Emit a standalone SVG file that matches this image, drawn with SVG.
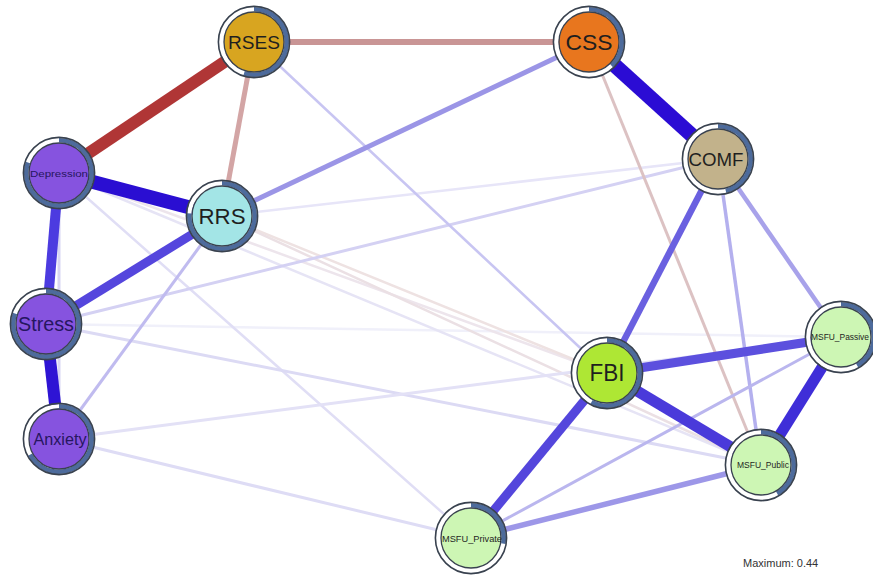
<svg xmlns="http://www.w3.org/2000/svg" width="873" height="578" viewBox="0 0 873 578">
<style>
.e{fill:none;stroke-linecap:butt}
.ring{fill:none;stroke:#ffffff;stroke-width:4.6}
.pie{fill:none;stroke:#4d6b9c;stroke-width:4.6}
.outer{fill:none;stroke:#39424f;stroke-width:1.6}
.inner{stroke:#39424f;stroke-width:1.3}
.lbl{font-family:"Liberation Sans",Arial,sans-serif;fill:#1f1f1f;text-anchor:middle}
.lblp{fill:#261660}
</style>
<rect width="873" height="578" fill="#ffffff"/>
<g id="connectors">
  <line class="e" x1="46" y1="324" x2="841" y2="337" stroke="#f0f0fa" stroke-width="2.5"/>
  <line class="e" x1="222" y1="216" x2="718" y2="159" stroke="#e7e5f8" stroke-width="2.5"/>
  <line class="e" x1="59" y1="173" x2="607" y2="373" stroke="#ede5ec" stroke-width="2.5"/>
  <line class="e" x1="59" y1="173" x2="761" y2="465" stroke="#e6e4f5" stroke-width="2.5"/>
  <line class="e" x1="222" y1="216" x2="607" y2="373" stroke="#eee2e2" stroke-width="2.5"/>
  <line class="e" x1="222" y1="216" x2="761" y2="465" stroke="#ebe0e4" stroke-width="2.5"/>
  <line class="e" x1="59" y1="173" x2="471" y2="538" stroke="#e0def5" stroke-width="2.5"/>
  <line class="e" x1="46" y1="324" x2="761" y2="465" stroke="#dcdaf4" stroke-width="3"/>
  <line class="e" x1="59" y1="439" x2="841" y2="337" stroke="#e3e1f6" stroke-width="3"/>
  <line class="e" x1="59" y1="439" x2="471" y2="538" stroke="#dedcf5" stroke-width="3"/>
  <line class="e" x1="46" y1="324" x2="718" y2="159" stroke="#d4d1f3" stroke-width="3"/>
  <line class="e" x1="59" y1="173" x2="59" y2="439" stroke="#d8d5f3" stroke-width="3"/>
  <line class="e" x1="222" y1="216" x2="59" y2="439" stroke="#c0bbef" stroke-width="3"/>
  <line class="e" x1="254" y1="42" x2="607" y2="373" stroke="#c8c5f2" stroke-width="2.6"/>
  <line class="e" x1="589" y1="42" x2="761" y2="465" stroke="#dcc2c3" stroke-width="3"/>
  <line class="e" x1="718" y1="159" x2="761" y2="465" stroke="#b4b0ee" stroke-width="3.5"/>
  <line class="e" x1="471" y1="538" x2="841" y2="337" stroke="#bab6ee" stroke-width="3"/>
  <line class="e" x1="718" y1="159" x2="841" y2="337" stroke="#a8a2ea" stroke-width="4.5"/>
  <line class="e" x1="471" y1="538" x2="761" y2="465" stroke="#9d97e8" stroke-width="5.5"/>
  <line class="e" x1="222" y1="216" x2="589" y2="42" stroke="#9b95e6" stroke-width="5"/>
  <line class="e" x1="254" y1="42" x2="222" y2="216" stroke="#d3a5a5" stroke-width="5"/>
  <line class="e" x1="254" y1="42" x2="589" y2="42" stroke="#c99595" stroke-width="6"/>
  <line class="e" x1="718" y1="159" x2="607" y2="373" stroke="#6a60e0" stroke-width="6.5"/>
  <line class="e" x1="607" y1="373" x2="471" y2="538" stroke="#5446dc" stroke-width="9"/>
  <line class="e" x1="607" y1="373" x2="841" y2="337" stroke="#5c50de" stroke-width="9"/>
  <line class="e" x1="607" y1="373" x2="761" y2="465" stroke="#4a3ada" stroke-width="11"/>
  <line class="e" x1="841" y1="337" x2="761" y2="465" stroke="#3f2ed8" stroke-width="11"/>
  <line class="e" x1="46" y1="324" x2="222" y2="216" stroke="#5546dd" stroke-width="9"/>
  <line class="e" x1="59" y1="173" x2="46" y2="324" stroke="#4c3be0" stroke-width="10"/>
  <line class="e" x1="46" y1="324" x2="59" y2="439" stroke="#2e14d4" stroke-width="12"/>
  <line class="e" x1="59" y1="173" x2="222" y2="216" stroke="#2a0ed2" stroke-width="14"/>
  <line class="e" x1="589" y1="42" x2="718" y2="159" stroke="#2b0cd4" stroke-width="15"/>
  <line class="e" x1="254" y1="42" x2="59" y2="173" stroke="#b03636" stroke-width="12"/>
</g>
<g id="node-RSES">
  <circle class="ring" cx="254" cy="42" r="32.8"/>
  <circle class="pie" cx="254" cy="42" r="32.8" stroke-dasharray="113 300" transform="rotate(-90 254 42)"/>
  <circle class="outer" cx="254" cy="42" r="35.6"/>
  <circle class="inner" cx="254" cy="42" r="30" fill="#d8a520"/>
  <text class="lbl" x="254" y="49" font-size="19" textLength="52" lengthAdjust="spacingAndGlyphs" fill="#3a2c08">RSES</text>
</g>
<g id="node-CSS">
  <circle class="ring" cx="589" cy="42" r="32.8"/>
  <circle class="pie" cx="589" cy="42" r="32.8" stroke-dasharray="78 300" transform="rotate(-90 589 42)"/>
  <circle class="outer" cx="589" cy="42" r="35.6"/>
  <circle class="inner" cx="589" cy="42" r="30" fill="#e8761e"/>
  <text class="lbl" x="589" y="50" font-size="22" textLength="47" lengthAdjust="spacingAndGlyphs" fill="#2e1a08">CSS</text>
</g>
<g id="node-COMF">
  <circle class="ring" cx="718" cy="159" r="32.8"/>
  <circle class="pie" cx="718" cy="159" r="32.8" stroke-dasharray="95 300" transform="rotate(-90 718 159)"/>
  <circle class="outer" cx="718" cy="159" r="35.6"/>
  <circle class="inner" cx="718" cy="159" r="30" fill="#c2b28b"/>
  <text class="lbl" x="716" y="166" font-size="18.5" textLength="55" lengthAdjust="spacingAndGlyphs" fill="#2f2a1c">COMF</text>
</g>
<g id="node-Depression">
  <circle class="ring" cx="59" cy="173" r="32.8"/>
  <circle class="pie" cx="59" cy="173" r="32.8" stroke-dasharray="165 300" transform="rotate(-90 59 173)"/>
  <circle class="outer" cx="59" cy="173" r="35.6"/>
  <circle class="inner" cx="59" cy="173" r="30" fill="#8653df"/>
  <text class="lbl lblp" x="59" y="176.5" font-size="9.5" textLength="58" lengthAdjust="spacingAndGlyphs">Depression</text>
</g>
<g id="node-RRS">
  <circle class="ring" cx="222" cy="216" r="32.8"/>
  <circle class="pie" cx="222" cy="216" r="32.8" stroke-dasharray="157 300" transform="rotate(-90 222 216)"/>
  <circle class="outer" cx="222" cy="216" r="35.6"/>
  <circle class="inner" cx="222" cy="216" r="30" fill="#a3e5e6"/>
  <text class="lbl" x="222" y="224" font-size="22" textLength="47" lengthAdjust="spacingAndGlyphs" fill="#17323a">RRS</text>
</g>
<g id="node-Stress">
  <circle class="ring" cx="46" cy="324" r="32.8"/>
  <circle class="pie" cx="46" cy="324" r="32.8" stroke-dasharray="165 300" transform="rotate(-90 46 324)"/>
  <circle class="outer" cx="46" cy="324" r="35.6"/>
  <circle class="inner" cx="46" cy="324" r="30" fill="#8653df"/>
  <text class="lbl lblp" x="46" y="331" font-size="19.5" textLength="56" lengthAdjust="spacingAndGlyphs">Stress</text>
</g>
<g id="node-Anxiety">
  <circle class="ring" cx="59" cy="439" r="32.8"/>
  <circle class="pie" cx="59" cy="439" r="32.8" stroke-dasharray="138 300" transform="rotate(-90 59 439)"/>
  <circle class="outer" cx="59" cy="439" r="35.6"/>
  <circle class="inner" cx="59" cy="439" r="30" fill="#8653df"/>
  <text class="lbl lblp" x="60" y="445" font-size="16" textLength="53" lengthAdjust="spacingAndGlyphs">Anxiety</text>
</g>
<g id="node-FBI">
  <circle class="ring" cx="607" cy="373" r="32.8"/>
  <circle class="pie" cx="607" cy="373" r="32.8" stroke-dasharray="119 300" transform="rotate(-90 607 373)"/>
  <circle class="outer" cx="607" cy="373" r="35.6"/>
  <circle class="inner" cx="607" cy="373" r="30" fill="#aee734"/>
  <text class="lbl" x="607" y="381" font-size="23" textLength="35" lengthAdjust="spacingAndGlyphs">FBI</text>
</g>
<g id="node-MSFU_Passive">
  <circle class="ring" cx="841" cy="337" r="32.8"/>
  <circle class="pie" cx="841" cy="337" r="32.8" stroke-dasharray="86 300" transform="rotate(-90 841 337)"/>
  <circle class="outer" cx="841" cy="337" r="35.6"/>
  <circle class="inner" cx="841" cy="337" r="30" fill="#cdf6b4"/>
  <text class="lbl" x="840" y="340" font-size="9" textLength="58" lengthAdjust="spacingAndGlyphs" fill="#1e3a10">MSFU_Passive</text>
</g>
<g id="node-MSFU_Public">
  <circle class="ring" cx="761" cy="465" r="32.8"/>
  <circle class="pie" cx="761" cy="465" r="32.8" stroke-dasharray="86 300" transform="rotate(-90 761 465)"/>
  <circle class="outer" cx="761" cy="465" r="35.6"/>
  <circle class="inner" cx="761" cy="465" r="30" fill="#cdf6b4"/>
  <text class="lbl" x="763" y="468" font-size="8.7" textLength="52" lengthAdjust="spacingAndGlyphs" fill="#1e3a10">MSFU_Public</text>
</g>
<g id="node-MSFU_Private">
  <circle class="ring" cx="471" cy="538" r="32.8"/>
  <circle class="pie" cx="471" cy="538" r="32.8" stroke-dasharray="57 300" transform="rotate(-90 471 538)"/>
  <circle class="outer" cx="471" cy="538" r="35.6"/>
  <circle class="inner" cx="471" cy="538" r="30" fill="#cdf6b4"/>
  <text class="lbl" x="472" y="541.5" font-size="9.3" textLength="60" lengthAdjust="spacingAndGlyphs" fill="#1e3a10">MSFU_Private</text>
</g>
<text x="743" y="567" font-family="'Liberation Sans',Arial,sans-serif" font-size="11" fill="#333333">Maximum: 0.44</text>
</svg>
